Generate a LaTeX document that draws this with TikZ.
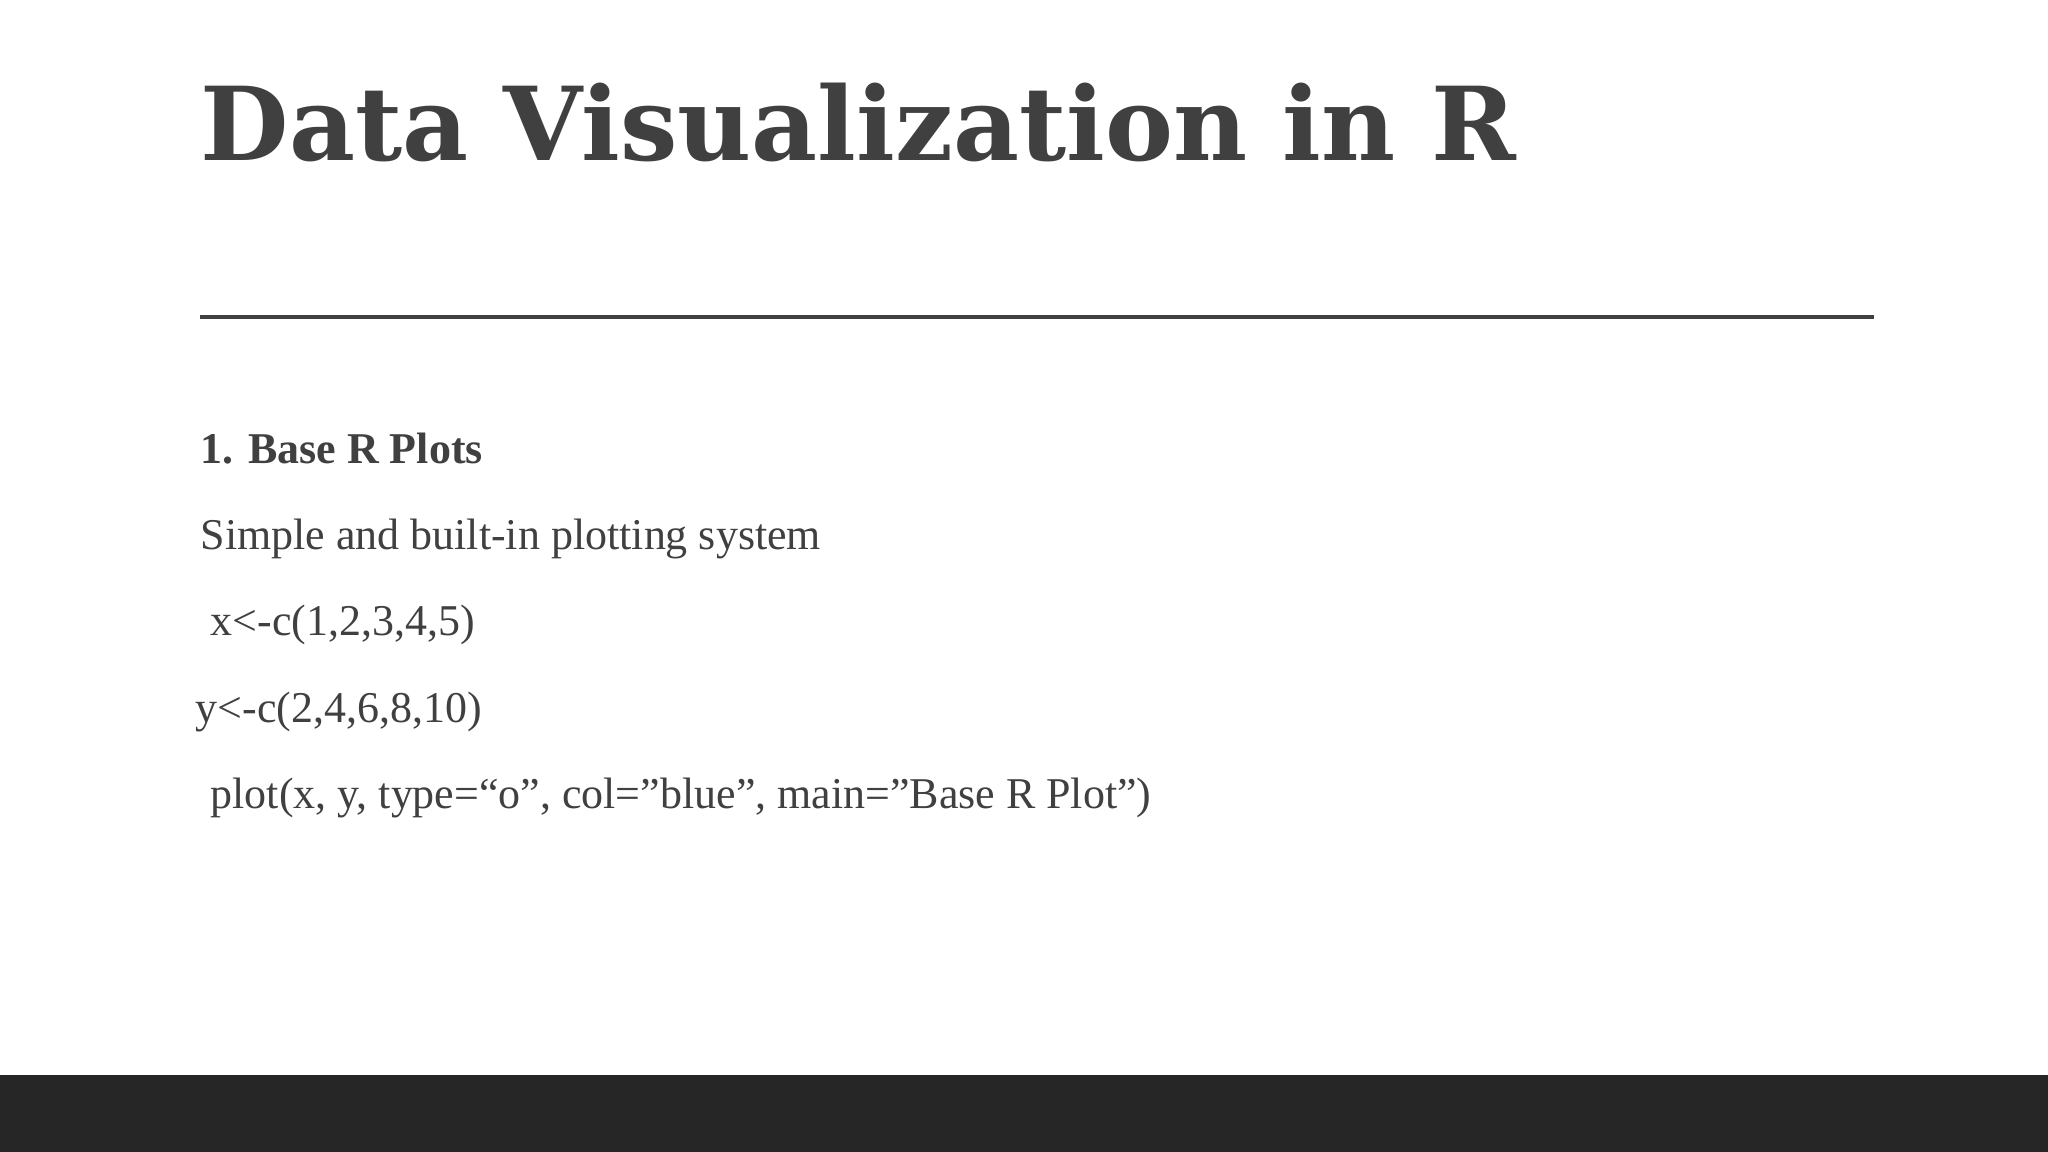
\documentclass[tikz,border=0pt]{standalone}
\usepackage{fontspec}
\setmainfont{Liberation Serif}
\newfontfamily\titlefont{DejaVu Serif}
\definecolor{txt}{HTML}{404040}
\definecolor{bar}{HTML}{262626}
\begin{document}
\begin{tikzpicture}[x=0.01cm,y=-0.01cm,
  body/.style={anchor=base west,inner sep=0pt,text=txt,font=\fontsize{12.5}{15}\selectfont}]
\useasboundingbox (0,0) rectangle (2048,1152);
\fill[white] (0,0) rectangle (2048,1152);
\fill[bar] (0,1075) rectangle (2048,1152);
\node[anchor=base west,inner sep=0pt,text=txt,font=\titlefont\bfseries\fontsize{29}{34}\selectfont] (title) at (200,161) {Data Visualization in R};
\draw[line width=1.2pt,txt] (200,317) -- (1874,317);
\node[body,font=\bfseries\fontsize{12.5}{15}\selectfont] (h) at (200,464) {1. Base R Plots};
\node[body] (l1) at (200,550) {Simple and built-in plotting system};
\node[body] (l2) at (210,636) {x<-c(1,2,3,4,5)};
\node[body] (l3) at (195,722) {y<-c(2,4,6,8,10)};
\node[body] (l4) at (210,808) {plot(x, y, type=“o", col="blue", main="Base R Plot")};
\end{tikzpicture}
\end{document}
